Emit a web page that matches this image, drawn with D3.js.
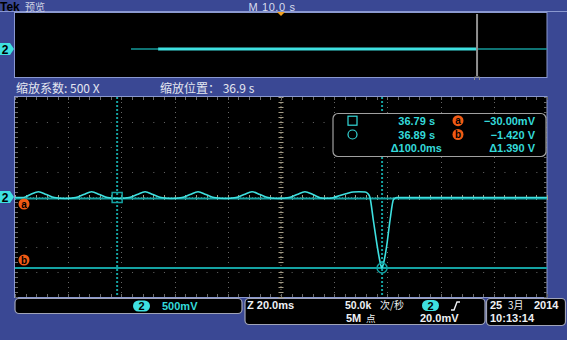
<!DOCTYPE html>
<html>
<head>
<meta charset="utf-8">
<script src="https://cdn.jsdelivr.net/npm/d3@7"></script>
<style>
  body { margin: 0; background: #3a4894; }
  svg { display: block; }
  text { font-family: "Liberation Sans", Arial, sans-serif; font-weight: bold; }
  .cjk { font-family: "Noto Sans CJK SC", sans-serif; font-weight: normal; }
</style>
</head>
<body>
<div id="scope"></div>
<script>
// zoomed waveform, time in ms from the zoom centre, volts
var waveT = [-100, -96.8, -94.2, -91.2, -88.2, -85.2, -81.2,
  -77.2, -74.2, -71.2, -68.2, -65.2, -61.2,
  -57.1, -54.1, -51.1, -48.1, -45.1, -41.2,
  -37.2, -34.2, -31.2, -28.2, -25.2, -21.0,
  -16.9, -13.9, -10.9, -7.9, -4.9, -1.0,
  3.0, 6.0, 9.0, 12.0, 15.0, 17.3, 19.5, 22.2, 24.8, 27.1, 29.3, 31.6, 32.6,
  33.4, 34.7, 36.2, 37.2, 37.9, 38.7, 39.7, 41.0, 42.3, 43.5, 100];
var waveV = [-0.01, -0.01, 0.05, 0.105, 0.05, -0.01, -0.03,
  -0.01, 0.05, 0.105, 0.05, -0.01, -0.03,
  -0.01, 0.05, 0.105, 0.05, -0.01, -0.03,
  -0.01, 0.05, 0.105, 0.05, -0.01, -0.03,
  -0.01, 0.05, 0.105, 0.05, -0.01, -0.03,
  -0.01, 0.05, 0.105, 0.05, -0.02, -0.026, -0.015, 0.03, 0.07, 0.1, 0.105, 0.1, 0.07,
  0.0, -0.46, -0.99, -1.29, -1.42, -1.29, -0.99, -0.46, -0.05, -0.01, -0.01];

// cursors: a (square) and b (circle)
var cursorT = [-61.6, 38.0];
var cursorV = [-0.03, -1.42];
var readTime = ['36.79 s', '36.89 s', '\u0394100.0ms'];
var readVolt = ['\u221230.00mV', '\u22121.420 V', '\u03941.390 V'];

// overview record, seconds from trigger
var overDim = [[-28.2, -23.1], [36.85, 50]];
var overBright = [[-23.1, 36.85]];
var zoomPos = 36.85;

var W = 567, H = 340;
var blue = '#3a4894', edge = '#8a98d0', cyan = '#3ee0e0', teal = '#14a2a2',
  textCyan = '#34dada', orange = '#f05a14';

var svg = d3.select('#scope').append('svg')
  .attr('width', W).attr('height', H);

svg.append('rect').attr('width', W).attr('height', H).attr('fill', blue);

// title bar
svg.append('line').attr('x1', 0).attr('x2', W).attr('y1', 11.5).attr('y2', 11.5)
  .attr('stroke', edge).attr('stroke-width', 1);
svg.append('text').attr('x', 0).attr('y', 11).attr('font-size', 12)
  .attr('fill', '#000').text('Tek');
svg.append('text').attr('class', 'cjk').attr('x', 25).attr('y', 10.5)
  .attr('font-size', 10).attr('fill', '#d0d4e4').text('预览');
svg.append('text').attr('x', 272).attr('y', 10.5).attr('font-size', 11)
  .attr('text-anchor', 'middle').attr('fill', '#d8dcec').style('font-weight', 'normal')
  .attr('letter-spacing', 0.6).text('M 10.0 s');

// overview window
var ox = d3.scaleLinear().domain([-50, 50]).range([15, 547]);
var oy = d3.scaleLinear().domain([-2, 2]).range([69, 29]);
svg.append('rect').attr('x', 14.5).attr('y', 12.5).attr('width', 532.5).attr('height', 65)
  .attr('fill', '#000').attr('stroke', edge);
svg.selectAll('.odim').data(overDim).enter().append('line')
  .attr('x1', function (d) { return ox(d[0]); }).attr('x2', function (d) { return ox(d[1]); })
  .attr('y1', oy(0)).attr('y2', oy(0))
  .attr('stroke', '#159a9a').attr('stroke-width', 1.5);
svg.selectAll('.obright').data(overBright).enter().append('line')
  .attr('x1', function (d) { return ox(d[0]); }).attr('x2', function (d) { return ox(d[1]); })
  .attr('y1', oy(0)).attr('y2', oy(0))
  .attr('stroke', cyan).attr('stroke-width', 3);
svg.append('line').attr('x1', ox(zoomPos)).attr('x2', ox(zoomPos))
  .attr('y1', 14).attr('y2', 76).attr('stroke', '#909090').attr('stroke-width', 2);
svg.append('path').attr('d', 'M' + (ox(zoomPos) - 2.5) + ',80 v-3 h5 v3')
  .attr('fill', 'none').attr('stroke', '#909090').attr('stroke-width', 1);
svg.append('path').attr('d', 'M' + (ox(0) - 4) + ',12 h8 l-4,4 z').attr('fill', '#f0a020');

// channel markers
function chMarker(y) {
  svg.append('path').attr('d', 'M0,' + (y - 6) + ' h10 l4,6 l-4,6 h-10 z')
    .attr('fill', cyan);
  svg.append('text').attr('x', 5).attr('y', y + 4.5).attr('font-size', 12)
    .attr('text-anchor', 'middle').attr('fill', '#000').text('2');
}
chMarker(oy(0));

// zoom info line
svg.append('text').attr('class', 'cjk').attr('x', 16).attr('y', 93).attr('font-size', 12)
  .attr('fill', '#e4e6f0').text('缩放系数: 500 X');
svg.append('text').attr('class', 'cjk').attr('x', 160).attr('y', 93).attr('font-size', 12)
  .attr('fill', '#e4e6f0').text('缩放位置： 36.9 s');

// main graticule
var x = d3.scaleLinear().domain([-100, 100]).range([15, 547]);
var y = d3.scaleLinear().domain([-2, 2]).range([297, 97]);
svg.append('rect').attr('x', 14.5).attr('y', 96.5).attr('width', 532.5).attr('height', 201)
  .attr('fill', '#000').attr('stroke', edge);

var g = svg.append('g');
var xDiv = d3.range(-80, 100, 20), yDiv = d3.range(-1.5, 2, 0.5);
g.selectAll('.vg').data(xDiv.filter(function (d) { return d !== 0; })).enter().append('line')
  .attr('x1', function (d) { return Math.round(x(d)) + 0.5; })
  .attr('x2', function (d) { return Math.round(x(d)) + 0.5; })
  .attr('y1', 97).attr('y2', 297)
  .attr('stroke', '#666').attr('stroke-dasharray', '1,4');
g.selectAll('.hg').data(yDiv.filter(function (d) { return d !== 0; })).enter().append('line')
  .attr('x1', 15).attr('x2', 547)
  .attr('y1', function (d) { return Math.round(y(d)) + 0.5; })
  .attr('y2', function (d) { return Math.round(y(d)) + 0.5; })
  .attr('stroke', '#666').attr('stroke-dasharray', '1,9.64');

// centre axes and edge ticks
var minorT = d3.range(-100, 100.1, 4), minorV = d3.range(-2, 2.01, 0.1);
g.append('line').attr('x1', x(0)).attr('x2', x(0)).attr('y1', 97).attr('y2', 297)
  .attr('stroke', '#7a7466').attr('stroke-dasharray', '1,2');
g.selectAll('.cvt').data(minorV).enter().append('line')
  .attr('x1', x(0) - 2.5).attr('x2', x(0) + 2.5)
  .attr('y1', function (d) { return Math.round(y(d)) + 0.5; })
  .attr('y2', function (d) { return Math.round(y(d)) + 0.5; })
  .attr('stroke', '#a49c86');
g.append('line').attr('x1', 15).attr('x2', 547).attr('y1', y(0) + 0.5).attr('y2', y(0) + 0.5)
  .attr('stroke', '#5a5a5a').attr('stroke-dasharray', '1,2');
g.selectAll('.cht').data(minorT).enter().append('line')
  .attr('x1', function (d) { return Math.round(x(d)) + 0.5; })
  .attr('x2', function (d) { return Math.round(x(d)) + 0.5; })
  .attr('y1', y(0) - 2).attr('y2', y(0) + 3)
  .attr('stroke', '#a49c86');
[97, 294].forEach(function (yy) {
  g.selectAll(null).data(minorT).enter().append('line')
    .attr('x1', function (d) { return Math.round(x(d)) + 0.5; })
    .attr('x2', function (d) { return Math.round(x(d)) + 0.5; })
    .attr('y1', yy).attr('y2', yy + 3)
    .attr('stroke', '#6a6a6a');
});
[15, 544].forEach(function (xx) {
  g.selectAll(null).data(minorV).enter().append('line')
    .attr('x1', xx).attr('x2', xx + 3)
    .attr('y1', function (d) { return Math.round(y(d)) + 0.5; })
    .attr('y2', function (d) { return Math.round(y(d)) + 0.5; })
    .attr('stroke', '#6a6a6a');
});

// cursors
svg.selectAll('.hc').data(cursorV).enter().append('line')
  .attr('x1', 15).attr('x2', 547)
  .attr('y1', function (d) { return y(d); }).attr('y2', function (d) { return y(d); })
  .attr('stroke', teal).attr('stroke-width', 2);
svg.selectAll('.vc').data(cursorT).enter().append('line')
  .attr('x1', function (d) { return x(d); }).attr('x2', function (d) { return x(d); })
  .attr('y1', 97).attr('y2', 297)
  .attr('stroke', teal).attr('stroke-width', 2).attr('stroke-dasharray', '2,2');

// trace
var wave = waveT.map(function (t, i) { return [t, waveV[i]]; });
var line = d3.line()
  .x(function (d) { return x(d[0]); })
  .y(function (d) { return y(d[1]); })
  .curve(d3.curveMonotoneX);
svg.append('path').datum(wave).attr('d', line)
  .attr('fill', 'none').attr('stroke', cyan).attr('stroke-width', 1.6);

// cursor symbols on the trace
svg.append('rect').attr('x', x(cursorT[0]) - 5).attr('y', y(cursorV[0]) - 6)
  .attr('width', 10).attr('height', 10)
  .attr('fill', 'none').attr('stroke', teal).attr('stroke-width', 1.5);
svg.append('circle').attr('cx', x(cursorT[1])).attr('cy', y(cursorV[1]))
  .attr('r', 5).attr('fill', 'none').attr('stroke', teal).attr('stroke-width', 1.5);

chMarker(y(0));

function badge(cx, cy, letter) {
  svg.append('circle').attr('cx', cx).attr('cy', cy).attr('r', 5.5).attr('fill', orange);
  svg.append('text').attr('x', cx).attr('y', cy + 3.5).attr('font-size', 10)
    .attr('text-anchor', 'middle').attr('fill', '#000').text(letter);
}
badge(24, 204, 'a');
badge(24, 260, 'b');

// readout box
svg.append('rect').attr('x', 333).attr('y', 113.5).attr('width', 213).attr('height', 43)
  .attr('rx', 5).attr('fill', '#000').attr('stroke', '#a0a0a0').attr('stroke-width', 1.2);
var rowY = [120.7, 134.5, 148];
svg.append('rect').attr('x', 348).attr('y', rowY[0] - 4.5).attr('width', 9).attr('height', 9)
  .attr('fill', 'none').attr('stroke', textCyan).attr('stroke-width', 1.2);
svg.append('circle').attr('cx', 352.5).attr('cy', rowY[1]).attr('r', 4.5)
  .attr('fill', 'none').attr('stroke', textCyan).attr('stroke-width', 1.2);
svg.selectAll('.rt').data(readTime).enter().append('text')
  .attr('x', function (d, i) { return i < 2 ? 435 : 442; })
  .attr('y', function (d, i) { return rowY[i] + 4; })
  .attr('text-anchor', 'end').attr('font-size', 11).attr('fill', textCyan)
  .text(function (d) { return d; });
svg.selectAll('.rv').data(readVolt).enter().append('text')
  .attr('x', 535).attr('y', function (d, i) { return rowY[i] + 4; })
  .attr('text-anchor', 'end').attr('font-size', 11).attr('fill', textCyan)
  .text(function (d) { return d; });
badge(458, rowY[0], 'a');
badge(458, rowY[1], 'b');

// bottom status boxes
function box(x0, y0, w, h) {
  svg.append('rect').attr('x', x0).attr('y', y0).attr('width', w).attr('height', h)
    .attr('rx', 4).attr('fill', '#000').attr('stroke', '#a0a4b8').attr('stroke-width', 1.2);
}
function pill(x0, yc) {
  svg.append('rect').attr('x', x0).attr('y', yc - 5.5).attr('width', 17).attr('height', 11)
    .attr('rx', 5.5).attr('fill', cyan);
  svg.append('text').attr('x', x0 + 8.5).attr('y', yc + 4).attr('font-size', 11)
    .attr('text-anchor', 'middle').attr('fill', '#000').text('2');
}
box(15, 298.5, 227, 15);
pill(133, 306);
svg.append('text').attr('x', 162).attr('y', 310).attr('font-size', 11)
  .attr('fill', textCyan).text('500mV');

var row1 = 308.5, row2 = 321.5;
box(245, 298.5, 240, 26);
var white = '#eef0f4';
svg.append('text').attr('x', 247).attr('y', row1).attr('font-size', 11)
  .attr('fill', white).text('Z 20.0ms');
svg.append('text').attr('x', 345).attr('y', row1).attr('font-size', 10.5)
  .attr('fill', white).text('50.0k');
svg.append('text').attr('class', 'cjk').attr('x', 380).attr('y', row1).attr('font-size', 10)
  .attr('fill', white).text('次/秒');
pill(422, 305.5);
svg.append('path').attr('d', 'M451,310 h3 l3,-8 h3').attr('fill', 'none')
  .attr('stroke', white).attr('stroke-width', 1.4);
svg.append('text').attr('x', 346).attr('y', row2).attr('font-size', 11)
  .attr('fill', white).text('5M');
svg.append('text').attr('class', 'cjk').attr('x', 366).attr('y', row2).attr('font-size', 9.5)
  .attr('fill', white).text('点');
svg.append('text').attr('x', 420).attr('y', row2).attr('font-size', 11)
  .attr('fill', white).text('20.0mV');

box(486.5, 298.5, 79, 27);
svg.append('text').attr('x', 490).attr('y', row1).attr('font-size', 11)
  .attr('fill', white).text('25');
svg.append('text').attr('class', 'cjk').attr('x', 508).attr('y', row1).attr('font-size', 10)
  .attr('fill', white).text('3月');
svg.append('text').attr('x', 534).attr('y', row1).attr('font-size', 11)
  .attr('fill', white).text('2014');
svg.append('text').attr('x', 490).attr('y', row2).attr('font-size', 11)
  .attr('fill', white).text('10:13:14');
</script>
</body>
</html>
